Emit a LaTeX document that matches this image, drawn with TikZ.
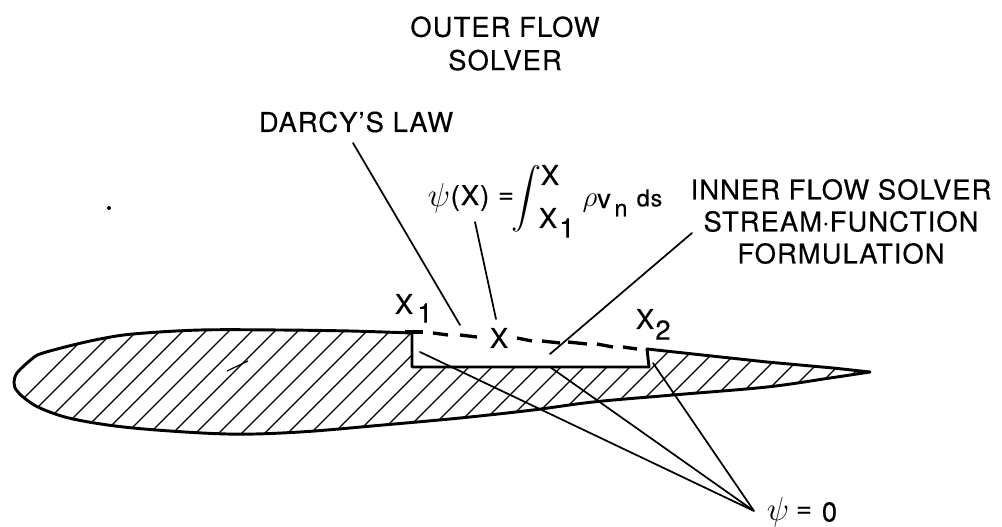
\documentclass[tikz,border=0pt]{standalone}
\usepackage{fontspec}
\setmainfont{TeX Gyre Heros}[LetterSpace=4,FakeBold=0.4]
\newcommand{\airfoil}{(412,333) (350,331) (280,330) (200,330) (133,334) (100,339) (73,345) (43,353) (33,358) (17,373) (14,383) (15,388) (23,397) (40,408) (73,419) (133,428) (227,434) (300,432) (383,425) (460,418) (533,410) (593,402) (673,395) (767,387) (830,378) (870,372)}
\newcommand{\psisym}{\raisebox{0pt}{\scalebox{1.2}{$\psi$}}}
\newcommand{\rhosym}{\scalebox{1.05}{$\rho$}}
\tikzset{
  lab/.style={font=\fontsize{20.5}{24}\selectfont, align=center, inner sep=0pt},
  big/.style={font=\fontsize{20.5}{24}\selectfont, inner sep=0pt},
  smalltext/.style={font=\fontsize{17.5}{20}\selectfont, inner sep=0pt},
  outline/.style={line width=2.2pt, line join=round},
  dashpiece/.style={line width=2.5pt},
  lead/.style={line width=1.3pt, line cap=round},
  hatchline/.style={line width=1pt},
  speck/.style={fill=black, draw=none}
}
\begin{document}
\begin{tikzpicture}[x=0.75pt,y=-0.75pt]
\useasboundingbox (0,0) rectangle (1002,527);
% hatching
\begin{scope}
\clip plot[smooth, tension=0.55] coordinates {\airfoil} -- (833,368) -- (767,362) -- (647,349) -- (649,367) -- (412,367) -- cycle;
\foreach \s in {0,...,36}{
  \draw[hatchline] ({422+23*\s-320},320) -- ({422+23*\s-450},450);
}
\end{scope}
% outline
\draw[outline] plot[smooth, tension=0.55] coordinates {\airfoil} -- (833,368) -- (767,362) -- (647,349) -- (649,367) -- (412,367) -- (412,333);
% texts
\node[lab] (outer) at (505,43.5) {OUTER FLOW\\[1pt]SOLVER};
\node[lab] (darcy) at (356,122) {DARCY'S LAW};
\node[lab] (inner) at (841,221.5) {INNER FLOW SOLVER\\STREAM$\cdot$FUNCTION\\FORMULATION};
\node[big] (xone) at (404,304) {X};
\node[big] (xonesub) at (425,313) {1};
\node[big] (xmid) at (499,338) {X};
\node[big] (xtwo) at (645,319) {X};
\node[big] (xtwosub) at (663,330) {2};
% formula
\node[big] (psix) at (439,198) {\psisym};
\node[big] (paren) at (470,198) {(X)};
\node[big] (equal) at (506,198) {=};
\node[inner sep=0pt] (integ) at (526,199) {\scalebox{2.25}{$\displaystyle\int$}};
\node[big] (upper) at (550,175) {X};
\node[big] (lower) at (548,218) {X};
\node[big] (lowersub) at (567,228) {1};
\node[big] (rho) at (590,203) {\rhosym};
\node[big] (vee) at (604,201) {v};
\node[smalltext] (nsub) at (621,210) {n};
\node[smalltext] (ds) at (649.5,198) {ds};
\node[big] (psizero) at (778,512) {\psisym};
\node[big] (equalz) at (804,512) {=};
\node[big] (zero) at (829.5,512) {0};
% leaders
\coordinate (a1) at (460,325);
\coordinate (a2) at (496,319);
\coordinate (a3) at (550,354);
\coordinate (z1) at (420,352);
\coordinate (z2) at (550,367);
\coordinate (z3) at (653,363);
\coordinate (apex) at (754,511);
\coordinate (d1) at (353,143);
\coordinate (p1) at (475,222);
\coordinate (i1) at (692,233);
\draw[lead] (d1) -- (a1);
\draw[lead] (p1) -- (a2);
\draw[lead] (i1) -- (a3);
\draw[lead] (z1) -- (apex) -- (z2);
\draw[lead] (z3) -- (apex);
% dashed top of the cavity
\foreach \a/\b/\c/\d in {405/332/423/332, 433/333/448/335, 460/335/477/337, 517/338/532/341, 542/341/560/343, 568/342/587/344, 597/344/613/347, 623/347/637/349}{
  \draw[dashpiece] (\a,\b) -- (\c,\d);
}
% specks
\fill[speck] (109,208) circle (2);
\draw[line width=0.9pt] (227,371) -- (248,361);
\end{tikzpicture}
\end{document}
